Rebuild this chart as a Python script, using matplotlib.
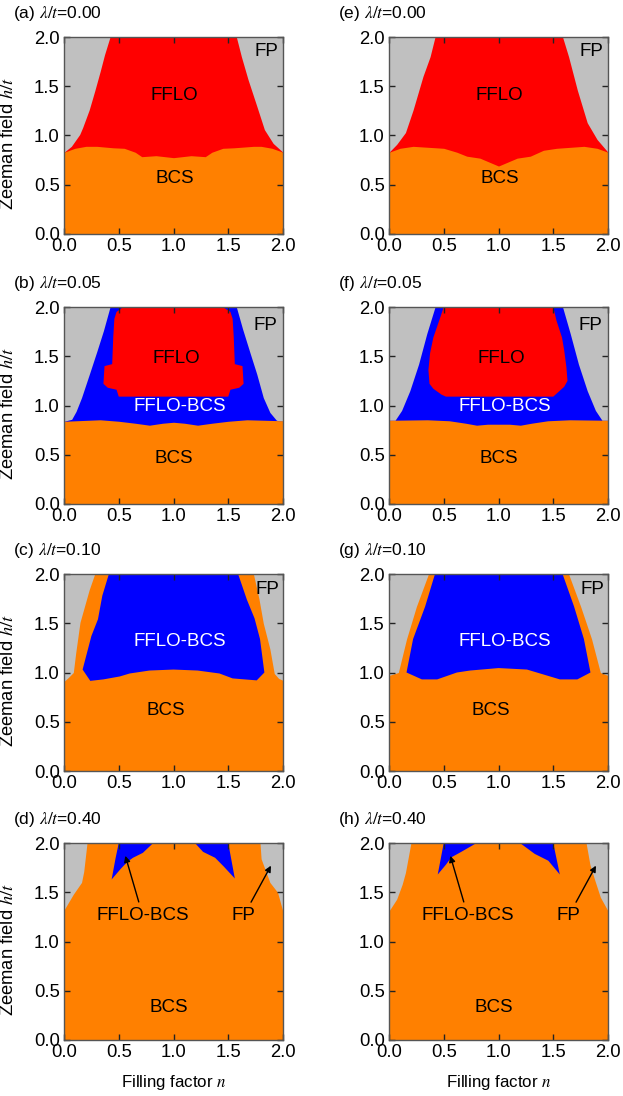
import matplotlib
matplotlib.use('Agg')
import matplotlib.pyplot as plt

plt.rcParams['font.family'] = ['Liberation Sans', 'DejaVu Sans']
plt.rcParams['mathtext.fontset'] = 'stix'

# Phase colours
GRAY = '#c0c0c0'
RED = '#ff0000'
ORANGE = '#ff8000'
BLUE = '#0000ff'

# (a) lambda/t = 0.00 : superconducting edge (FP above) and BCS upper edge
a_edge_n = [0.0, 0.067, 0.143, 0.17, 0.23, 0.28, 0.33, 0.37, 0.42, 1.574, 1.62, 1.68, 1.76, 1.83, 1.91, 2.0]
a_edge_h = [0.83, 0.89, 1.01, 1.08, 1.26, 1.45, 1.65, 1.82, 2.0, 2.0, 1.80, 1.57, 1.30, 1.06, 0.92, 0.83]
a_bcs_n = [0.0, 0.1, 0.2, 0.3, 0.45, 0.55, 0.65, 0.71, 0.84, 1.0, 1.16, 1.29, 1.35, 1.45, 1.55, 1.73, 1.8, 1.9, 2.0]
a_bcs_h = [0.83, 0.87, 0.89, 0.89, 0.875, 0.87, 0.83, 0.785, 0.795, 0.775, 0.795, 0.785, 0.83, 0.87, 0.875, 0.89, 0.89, 0.87, 0.83]

# (e) lambda/t = 0.00
e_edge_n = [0.0, 0.07, 0.15, 0.22, 0.31, 0.375, 0.42, 1.585, 1.64, 1.72, 1.81, 1.90, 2.0]
e_edge_h = [0.83, 0.91, 1.03, 1.26, 1.60, 1.80, 2.0, 2.0, 1.80, 1.46, 1.13, 0.96, 0.83]
e_bcs_n = [0.0, 0.1, 0.22, 0.5, 0.62, 0.71, 0.83, 1.0, 1.17, 1.29, 1.41, 1.53, 1.78, 1.9, 2.0]
e_bcs_h = [0.83, 0.87, 0.89, 0.87, 0.83, 0.79, 0.77, 0.69, 0.77, 0.79, 0.85, 0.87, 0.89, 0.87, 0.83]

# (b) lambda/t = 0.05
b_edge_n = [0.0, 0.07, 0.11, 0.16, 0.235, 0.30, 0.36, 0.42, 1.574, 1.63, 1.70, 1.76, 1.82, 1.88, 1.94, 2.0]
b_edge_h = [0.84, 0.86, 0.94, 1.08, 1.33, 1.55, 1.76, 2.0, 2.0, 1.78, 1.53, 1.32, 1.08, 0.93, 0.85, 0.84]
b_fflo_n = [0.54, 0.48, 0.46, 0.45, 0.44, 0.37, 0.36, 0.40, 0.48, 0.50, 1.50, 1.52, 1.60, 1.64, 1.63, 1.56, 1.55, 1.54, 1.52, 1.45]
b_fflo_h = [2.0, 1.95, 1.88, 1.70, 1.42, 1.40, 1.22, 1.18, 1.16, 1.09, 1.09, 1.16, 1.18, 1.22, 1.40, 1.42, 1.70, 1.88, 1.95, 2.0]
b_bcs_n = [0.0, 0.33, 0.5, 0.65, 0.78, 0.9, 1.0, 1.1, 1.22, 1.35, 1.5, 1.67, 2.0]
b_bcs_h = [0.84, 0.855, 0.84, 0.82, 0.80, 0.82, 0.83, 0.82, 0.80, 0.82, 0.84, 0.855, 0.845]

# (f) lambda/t = 0.05
f_edge_n = [0.0, 0.055, 0.115, 0.19, 0.27, 0.345, 0.42, 1.585, 1.655, 1.73, 1.81, 1.885, 1.945, 2.0]
f_edge_h = [0.85, 0.85, 0.95, 1.15, 1.42, 1.73, 2.0, 2.0, 1.73, 1.42, 1.15, 0.95, 0.85, 0.85]
f_fflo_n = [0.50, 0.47, 0.405, 0.375, 0.36, 0.37, 0.405, 0.48, 0.52, 1.50, 1.53, 1.60, 1.63, 1.62, 1.60, 1.58, 1.53, 1.50]
f_fflo_h = [2.0, 1.90, 1.69, 1.53, 1.36, 1.22, 1.17, 1.11, 1.09, 1.09, 1.12, 1.19, 1.25, 1.39, 1.56, 1.69, 1.86, 2.0]
f_bcs_n = [0.0, 0.35, 0.55, 0.7, 0.8, 0.9, 1.0, 1.1, 1.2, 1.3, 1.45, 1.65, 2.0]
f_bcs_h = [0.85, 0.855, 0.845, 0.82, 0.80, 0.81, 0.81, 0.81, 0.80, 0.82, 0.845, 0.855, 0.85]

# (c) lambda/t = 0.10 : superconducting edge and FFLO-BCS pocket
c_edge_n = [0.0, 0.04, 0.085, 0.107, 0.146, 0.23, 0.28, 1.73, 1.78, 1.82, 1.88, 1.92, 1.96, 2.0]
c_edge_h = [0.91, 0.95, 1.0, 1.2, 1.51, 1.84, 2.0, 2.0, 1.75, 1.5, 1.24, 0.99, 0.94, 0.92]
c_mix_n = [0.41, 0.35, 0.31, 0.25, 0.17, 0.24, 0.36, 0.51, 0.60, 0.78, 1.0, 1.22, 1.42, 1.54, 1.76, 1.83, 1.79, 1.74, 1.67, 1.59]
c_mix_h = [2.0, 1.78, 1.54, 1.37, 1.03, 0.915, 0.93, 0.96, 0.99, 1.02, 1.03, 1.02, 0.99, 0.94, 0.92, 1.0, 1.34, 1.55, 1.74, 2.0]

# (g) lambda/t = 0.10
g_edge_n = [0.0, 0.085, 0.16, 0.25, 0.36, 1.64, 1.75, 1.85, 1.93, 2.0]
g_edge_h = [0.97, 1.0, 1.34, 1.67, 2.0, 2.0, 1.67, 1.34, 1.0, 0.97]
g_mix_n = [0.42, 0.33, 0.22, 0.16, 0.30, 0.44, 0.62, 0.74, 1.0, 1.26, 1.41, 1.56, 1.72, 1.84, 1.78, 1.69, 1.585]
g_mix_h = [2.0, 1.67, 1.34, 1.0, 0.93, 0.93, 1.0, 1.02, 1.045, 1.03, 0.98, 0.93, 0.93, 1.0, 1.34, 1.67, 2.0]

# (d) lambda/t = 0.40 : superconducting edge and two FFLO-BCS pockets
d_edge_n = [0.0, 0.085, 0.16, 0.18, 0.21, 1.79, 1.80, 1.88, 1.95, 2.0]
d_edge_h = [1.32, 1.48, 1.60, 1.71, 2.0, 2.0, 1.84, 1.60, 1.50, 1.30]
d_left_n = [0.50, 0.47, 0.435, 0.52, 0.58, 0.63, 0.72, 0.815]
d_left_h = [2.0, 1.84, 1.63, 1.74, 1.81, 1.85, 1.90, 2.0]
d_right_n = [1.196, 1.27, 1.38, 1.46, 1.56, 1.53, 1.50]
d_right_h = [2.0, 1.91, 1.85, 1.76, 1.64, 1.82, 2.0]

# (h) lambda/t = 0.40
h_edge_n = [0.0, 0.07, 0.12, 0.15, 0.20, 1.80, 1.835, 1.88, 1.93, 2.0]
h_edge_h = [1.31, 1.43, 1.58, 1.70, 2.0, 2.0, 1.78, 1.62, 1.45, 1.31]
h_left_n = [0.50, 0.445, 0.52, 0.57, 0.66, 0.80]
h_left_h = [2.0, 1.68, 1.78, 1.855, 1.91, 2.0]
h_right_n = [1.196, 1.33, 1.455, 1.56, 1.50]
h_right_h = [2.0, 1.89, 1.82, 1.68, 2.0]

titles = ['(a)', '(b)', '(c)', '(d)', '(e)', '(f)', '(g)', '(h)']
lambdas = ['0.00', '0.05', '0.10', '0.40', '0.00', '0.05', '0.10', '0.40']
ticks = [0.0, 0.5, 1.0, 1.5, 2.0]

fig = plt.figure(figsize=(6.23, 10.96), dpi=100)
W, H = 623.0, 1096.0
col_left = [64, 389]
row_top = [37, 307, 574, 843]
aw, ah = 219, 197

axes = {}
for c in range(2):
    for r in range(4):
        ax = fig.add_axes([col_left[c] / W, 1 - (row_top[r] + ah) / H, aw / W, ah / H])
        axes[titles[c * 4 + r]] = ax

FS = 13.5


def label(ax, x, y, s, color='k'):
    ax.text(x, y, s, ha='center', va='center', fontsize=FS, color=color)


# row 1: FFLO above BCS
for key, en, eh, bn, bh in [('(a)', a_edge_n, a_edge_h, a_bcs_n, a_bcs_h),
                             ('(e)', e_edge_n, e_edge_h, e_bcs_n, e_bcs_h)]:
    ax = axes[key]
    ax.fill_between(en, 0, eh, color=RED, lw=0)
    ax.fill_between(bn, 0, bh, color=ORANGE, lw=0)
    label(ax, 1.01, 1.41, 'FFLO')
    label(ax, 1.01, 0.56, 'BCS')
    label(ax, 1.85, 1.85, 'FP')

# row 2: FFLO-BCS band around FFLO
for key, en, eh, fn, fh, bn, bh in [('(b)', b_edge_n, b_edge_h, b_fflo_n, b_fflo_h, b_bcs_n, b_bcs_h),
                                     ('(f)', f_edge_n, f_edge_h, f_fflo_n, f_fflo_h, f_bcs_n, f_bcs_h)]:
    ax = axes[key]
    ax.fill_between(en, 0, eh, color=BLUE, lw=0)
    ax.fill(fn, fh, color=RED, lw=0)
    ax.fill_between(bn, 0, bh, color=ORANGE, lw=0)
    label(ax, 1.03, 1.48, 'FFLO')
    label(ax, 1.06, 0.99, 'FFLO-BCS', color='white')
    label(ax, 1.0, 0.46, 'BCS')
    label(ax, 1.84, 1.81, 'FP')

# row 3: FFLO-BCS pocket inside BCS
for key, en, eh, mn, mh in [('(c)', c_edge_n, c_edge_h, c_mix_n, c_mix_h),
                             ('(g)', g_edge_n, g_edge_h, g_mix_n, g_mix_h)]:
    ax = axes[key]
    ax.fill_between(en, 0, eh, color=ORANGE, lw=0)
    ax.fill(mn, mh, color=BLUE, lw=0)
    label(ax, 1.06, 1.31, 'FFLO-BCS', color='white')
    label(ax, 0.93, 0.61, 'BCS')
    label(ax, 1.86, 1.84, 'FP')

# row 4: small FFLO-BCS pockets
for key, en, eh, ln, lh, rn, rh in [('(d)', d_edge_n, d_edge_h, d_left_n, d_left_h, d_right_n, d_right_h),
                                     ('(h)', h_edge_n, h_edge_h, h_left_n, h_left_h, h_right_n, h_right_h)]:
    ax = axes[key]
    ax.fill_between(en, 0, eh, color=ORANGE, lw=0)
    ax.fill(ln, lh, color=BLUE, lw=0)
    ax.fill(rn, rh, color=BLUE, lw=0)
    label(ax, 0.96, 0.33, 'BCS')
    arrow = dict(arrowstyle='-|>', color='k', lw=1.0, mutation_scale=9, shrinkA=2, shrinkB=0)
    ax.annotate('FFLO-BCS', xy=(0.56, 1.87), xytext=(0.72, 1.26), ha='center', va='center',
                fontsize=FS, arrowprops=arrow)
    ax.annotate('FP', xy=(1.89, 1.77), xytext=(1.64, 1.26), ha='center', va='center',
                fontsize=FS, arrowprops=arrow)

for i, key in enumerate(titles):
    ax = axes[key]
    ax.set_facecolor(GRAY)
    ax.set_xlim(0, 2)
    ax.set_ylim(0, 2)
    ax.set_xticks(ticks)
    ax.set_yticks(ticks)
    ax.xaxis.set_major_formatter(matplotlib.ticker.FormatStrFormatter('%.1f'))
    ax.yaxis.set_major_formatter(matplotlib.ticker.FormatStrFormatter('%.1f'))
    ax.tick_params(direction='in', top=True, right=True, length=4, width=1,
                   labelsize=13.3, pad=3, color='#222222')
    for sp in ax.spines.values():
        sp.set_color('#555555')
        sp.set_linewidth(1.0)
    ax.text(-0.235, 1.12, key + r' $\lambda/t$=' + lambdas[i], transform=ax.transAxes,
            ha='left', va='center', fontsize=12.5)
    if i < 4:
        ax.set_ylabel(r'Zeeman field $h/t$', fontsize=13.2)
        ax.yaxis.set_label_coords(-0.215, 0.46)
    if key in ('(d)', '(h)'):
        ax.set_xlabel(r'Filling factor $n$', fontsize=12.2)
        ax.xaxis.set_label_coords(0.5, -0.165)

fig.savefig('out.png', dpi=100)
